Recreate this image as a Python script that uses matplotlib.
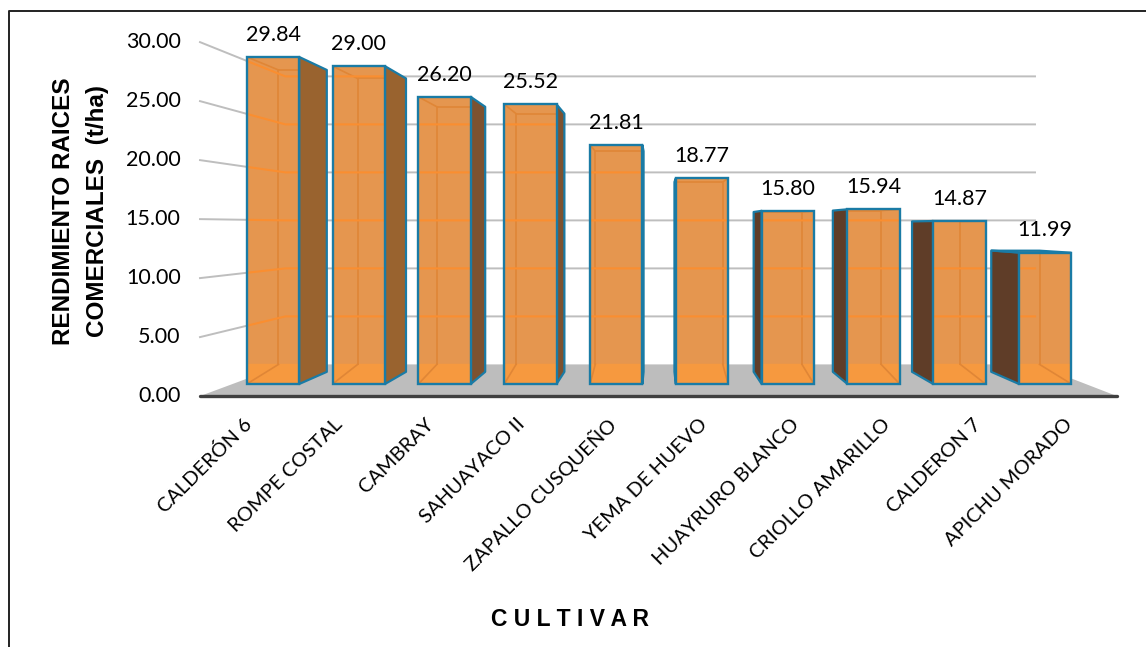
"""Bar chart with a hand-built 3D look: commercial root yield per cultivar."""

import matplotlib
matplotlib.use("Agg")
import matplotlib.pyplot as plt
from matplotlib.patches import Polygon

# yield per cultivar (t/ha)
cultivars = [
    "CALDERÓN 6", "ROMPE COSTAL", "CAMBRAY", "SAHUAYACO II", "ZAPALLO CUSQUEÑO",
    "YEMA DE HUEVO", "HUAYRURO BLANCO", "CRIOLLO AMARILLO", "CALDERON 7", "APICHU MORADO",
]
yields = [29.84, 29.00, 26.20, 25.52, 21.81, 18.77, 15.80, 15.94, 14.87, 11.99]
axis_ticks = [0, 5, 10, 15, 20, 25, 30]

W, H = 1146, 647

# pixel layout of the front plane of the bars
X0_PX, DX_PX = 273.0, 85.8
Y0_PX, DY_PX = 384.0, 10.96

# perspective: vanishing point and depth scales
VP_X = (658 - X0_PX) / DX_PX
VP_Y = (Y0_PX - 226) / DY_PX
S_BAR_BACK = 0.923
S_FLOOR_FRONT = 1.0766
S_FLOOR_BACK = 0.876
S_LABEL = 1.063
BAR_W = 0.61

ORANGE = "#E5964F"
ORANGE_LINE = "#FA8E30"
ORANGE_INNER = "#E08636"
ORANGE_FLOOR = "#F6993F"
EDGE = "#1A7BA5"
SIDE_LEFT = "#99632F"
SIDE_LEFT_DARK = "#7D5230"
SIDE_RIGHT = "#5F3D28"
GRID = "#BEBEBE"


def proj(x, y, s):
    return VP_X + (x - VP_X) * s, VP_Y + (y - VP_Y) * s


def px(a, b):
    """Figure pixel position to data coordinates."""
    return (a - X0_PX) / DX_PX, (Y0_PX - b) / DY_PX


fig = plt.figure(figsize=(W / 100, H / 100), dpi=100)
ax = fig.add_axes([0, 0, 1, 1])
ax.set_xlim(-X0_PX / DX_PX, (W - X0_PX) / DX_PX)
ax.set_ylim((Y0_PX - H) / DY_PX, Y0_PX / DY_PX)
ax.axis("off")

plt.rcParams["font.family"] = ["Lato", "DejaVu Sans"]

# outer frame: left and top edges only
frame = [px(9, 647), px(9, 11), px(1146, 11)]
ax.plot(*zip(*frame), color="#222222", lw=1.4, zorder=1)

# floor, given by its front corners
left_x = VP_X + (px(200, 0)[0] - VP_X) / S_FLOOR_FRONT
right_x = VP_X + (px(1117, 0)[0] - VP_X) / S_FLOOR_FRONT
wall_end_x = VP_X + (px(1035, 0)[0] - VP_X) / S_FLOOR_BACK
floor = [proj(left_x, 0, S_FLOOR_FRONT), proj(right_x, 0, S_FLOOR_FRONT),
         proj(wall_end_x, 0, S_FLOOR_BACK), proj(left_x, 0, S_FLOOR_BACK)]
floor_back_y = floor[2][1]
ax.add_patch(Polygon(floor, closed=True, fc="#BDBDBD", ec="none", zorder=2))
ax.plot([floor[0][0], floor[1][0]], [floor[0][1], floor[1][1]],
        color="#404040", lw=2.4, zorder=6, solid_capstyle="round")

# side wall and back wall gridlines
for t in axis_ticks[1:]:
    a = proj(left_x, t, S_FLOOR_FRONT)
    b = proj(left_x, t, S_FLOOR_BACK)
    c = proj(wall_end_x, t, S_FLOOR_BACK)
    ax.plot([a[0], b[0], c[0]], [a[1], b[1], c[1]], color=GRID, lw=1.4, zorder=3)

# axis labels on the front edge of the side wall
for t in axis_ticks:
    x, y = proj(left_x, t, S_FLOOR_FRONT)
    ax.annotate(f"{t:.2f}", (x, y), xytext=(-14, 0), textcoords="offset points",
                ha="right", va="center", fontsize=15.5, color="black", zorder=7)

# bars
for i, (name, v) in enumerate(zip(cultivars, yields)):
    xl, xr = i - BAR_W / 2, i + BAR_W / 2
    front = [(xl, 0), (xr, 0), (xr, v), (xl, v)]
    back = [proj(x, y, S_BAR_BACK) for x, y in front]

    # visible side face, on the side away from the vanishing point
    if xr < VP_X:
        side = [front[1], back[1], back[2], front[2]]
        side_color = SIDE_LEFT if i < 2 else SIDE_LEFT_DARK
    elif xl > VP_X:
        side = [front[0], back[0], back[3], front[3]]
        side_color = SIDE_RIGHT
    else:
        side = None
    if side:
        ax.add_patch(Polygon(side, closed=True, fc=side_color, ec=EDGE, lw=1.6,
                             joinstyle="round", zorder=4))

    # top sliver when the top sits below the vanishing point
    if v < VP_Y:
        ax.add_patch(Polygon([front[3], front[2], back[2], back[3]], closed=True,
                             fc=ORANGE, ec=EDGE, lw=1.4, zorder=4))

    face = Polygon(front, closed=True, fc=ORANGE, ec="none", zorder=5)
    ax.add_patch(face)

    # interior of the box seen through the front face
    inner_bl = (back[0][0], floor_back_y)
    inner_br = (back[1][0], floor_back_y)
    inner = []
    inner.append(ax.fill([xl, xr, xr, xl], [0, 0, floor_back_y, floor_back_y],
                         color=ORANGE_FLOOR, zorder=5.1)[0])
    inner.append(ax.plot([inner_bl[0], back[3][0], back[2][0], inner_br[0]],
                         [inner_bl[1], back[3][1], back[2][1], inner_br[1]],
                         color=ORANGE_INNER, lw=1.2, zorder=5.2)[0])
    for p, q in ((front[0], inner_bl), (front[1], inner_br), (front[2], back[2]), (front[3], back[3])):
        inner.append(ax.plot([p[0], q[0]], [p[1], q[1]],
                             color=ORANGE_INNER, lw=1.2, zorder=5.2)[0])
    for t in axis_ticks[1:]:
        a = proj(left_x, t, S_FLOOR_FRONT)
        b = proj(left_x, t, S_FLOOR_BACK)
        c = proj(wall_end_x, t, S_FLOOR_BACK)
        inner.append(ax.plot([a[0], b[0], c[0]], [a[1], b[1], c[1]],
                             color=ORANGE_LINE, lw=1.5, zorder=5.3)[0])
    for art in inner:
        art.set_clip_path(face)

    ax.add_patch(Polygon(front, closed=True, fc="none", ec=EDGE, lw=1.7, zorder=5.5))

    ax.annotate(f"{v:.2f}", (i, v), xytext=(0, 16), textcoords="offset points",
                ha="center", va="center", fontsize=15.5, color="black", zorder=7)

    # cultivar name below the floor, rotated
    ax.annotate(name, proj(i, 0, S_LABEL), xytext=(0, -19.8), textcoords="offset points",
                rotation=45, rotation_mode="anchor", ha="right", va="center",
                fontsize=14.4, color="black", zorder=7)

title_font = dict(family="Liberation Sans", fontweight="bold", color="black", zorder=7)
ax.text(*px(63, 211), "RENDIMIENTO RAICES", rotation=90, ha="center", va="center",
        fontsize=17.5, **title_font)
ax.text(*px(97, 211), "COMERCIALES  (t/ha)", rotation=90, ha="center", va="center",
        fontsize=17.5, **title_font)
ax.text(*px(570, 620), "C U L T I V A R", ha="center", va="center",
        fontsize=16.5, **title_font)

fig.savefig("out.png", dpi=100)
plt.close(fig)
